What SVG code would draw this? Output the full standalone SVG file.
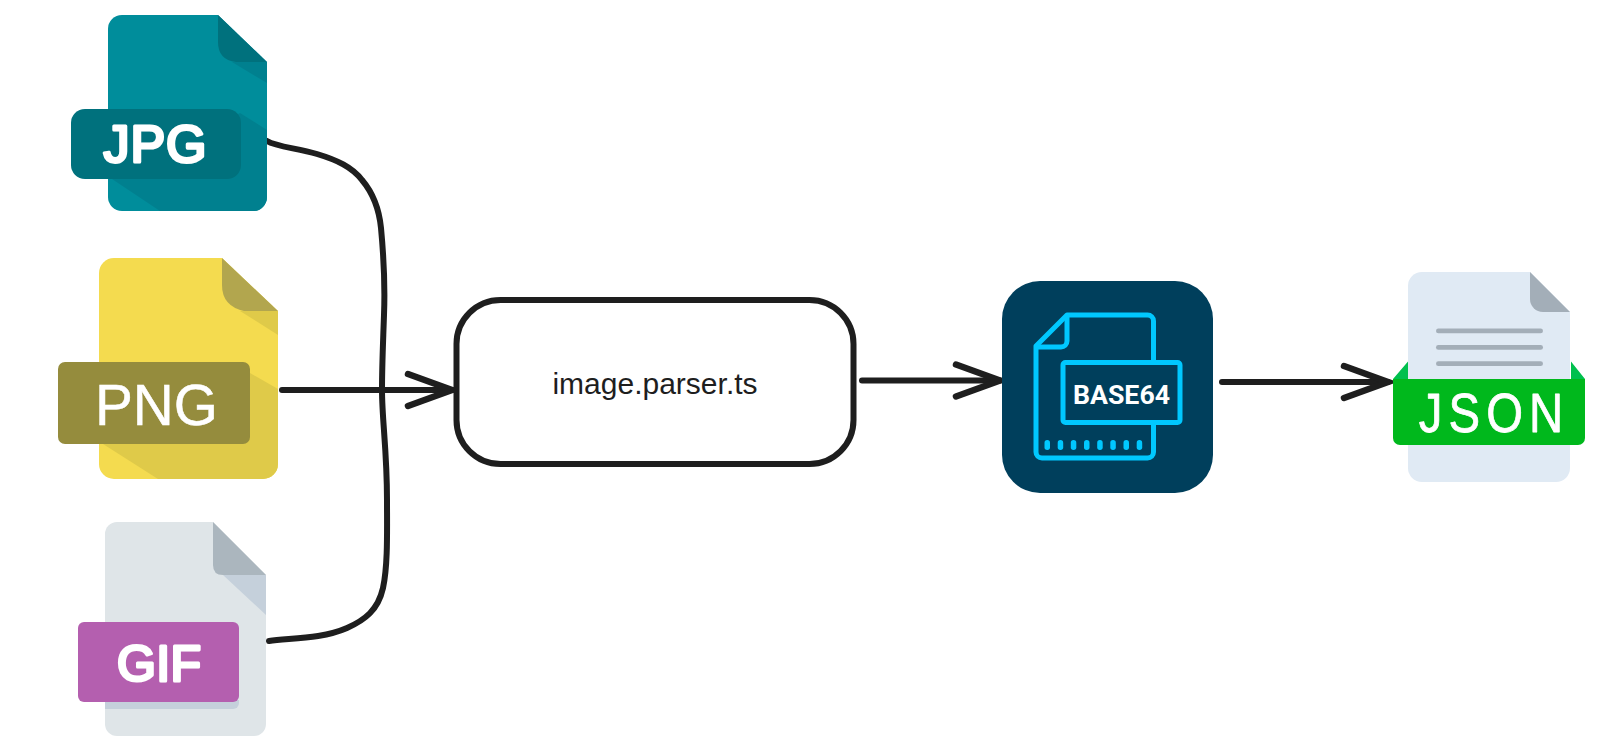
<svg xmlns="http://www.w3.org/2000/svg" width="1600" height="751" viewBox="0 0 1600 751">
<style>
.wire{fill:none;stroke:#1e1e1e;stroke-width:6;stroke-linecap:round;stroke-linejoin:round}
.t{fill:#fff;text-anchor:middle;font-family:"Liberation Sans",Arial,sans-serif}
.rounded{stroke:#fff;stroke-width:3.200;stroke-linejoin:round}
</style>
<defs>
<marker id="head" markerUnits="userSpaceOnUse" markerWidth="60" markerHeight="50" refX="52" refY="20" orient="auto" overflow="visible">
<path d="M8,4 L52,20 L8,36" fill="none" stroke="#1e1e1e" stroke-width="6.500" stroke-linecap="round" stroke-linejoin="miter"/>
</marker>
</defs>
<rect width="1600" height="751" fill="#fff"/>
<g id="connectors">
<path class="wire" d="M267,141 C277,147 297,148 317,154 C337,160 352,167 362,180 C373,193 379,208 381,228 C384,260 385,290 384,315 C383,345 382,365 382,390"/>
<path class="wire" d="M269,641 C290,638 322,639 347,628 C365,620 378,610 383,588 C388,565 387,530 387,500 C387,450 382,420 382,390"/>
<path class="wire" d="M282,390 L452,390" marker-end="url(#head)"/>
<path class="wire" d="M862,380.500 L1000,380.500" marker-end="url(#head)"/>
<path class="wire" d="M1222,382 L1388,382" marker-end="url(#head)"/>
</g>
<g id="jpg">
<path d="M122,15 H218 L267,62 V197 a14,14 0 0 1 -14,14 H122 a14,14 0 0 1 -14,-14 V29 a14,14 0 0 1 14,-14 Z" fill="#008d9b"/>
<path d="M240,113 L267,130 V197 a14,14 0 0 1 -14,14 H160 L112,179 Z" fill="#00808f"/>
<path d="M232,62 H267 V83 Z" fill="#00808f"/>
<path d="M218,15 L267,62 H236 Q218,60 218,42 Z" fill="#00717d"/>
<rect x="71" y="109" width="170" height="70" rx="14" fill="#00717d"/>
<text class="t rounded" x="155" y="161.500" font-size="52" textLength="103" lengthAdjust="spacing">JPG</text>
</g>
<g id="png">
<path d="M114,258 H222 L278,311 V464 a15,15 0 0 1 -15,15 H114 a15,15 0 0 1 -15,-15 V273 a15,15 0 0 1 15,-15 Z" fill="#f4db4f"/>
<path d="M250,373 L278,389 V464 a15,15 0 0 1 -15,15 H158 L103,444 Z" fill="#dfca49"/>
<path d="M240,311 H278 V335 Z" fill="#dfca49"/>
<path d="M222,258 L278,311 H244 Q222,306 222,285 Z" fill="#b2a64e"/>
<rect x="58" y="362" width="192" height="82" rx="7" fill="#958c3d"/>
<text class="t" x="156.500" y="425" font-size="58" textLength="123" lengthAdjust="spacingAndGlyphs" stroke="#fff" stroke-width=".5">PNG</text>
</g>
<g id="gif">
<path d="M117,522 H213 L266,575 V724 a12,12 0 0 1 -12,12 H117 a12,12 0 0 1 -12,-12 V534 a12,12 0 0 1 12,-12 Z" fill="#dfe5e8"/>
<path d="M223,575 H266 V615 Z" fill="#c5d0db"/>
<path d="M213,522 L266,575 H223 Q213,575 213,565 Z" fill="#abb6be"/>
<path d="M105,700 H239 V703 a6,6 0 0 1 -6,6 H105 Z" fill="#c5d0db"/>
<rect x="78" y="622" width="161" height="80" rx="6" fill="#b45faf"/>
<text class="t rounded" x="159" y="681" font-size="50" textLength="84" lengthAdjust="spacing">GIF</text>
</g>
<g id="parser">
<rect x="456.500" y="300" width="397" height="164" rx="44" fill="#fff" stroke="#1e1e1e" stroke-width="6"/>
<text x="655" y="394" font-family="'Liberation Sans',Arial,sans-serif" font-size="30" fill="#1e1e1e" text-anchor="middle">image.parser.ts</text>
</g>
<g id="base64">
<rect x="1002" y="281" width="211" height="212" rx="38" fill="#003f5c"/>
<g fill="none" stroke="#00c8ff" stroke-width="5" stroke-linejoin="round">
<path d="M1153.500,360 V321 a6,6 0 0 0 -6,-6 H1067 L1036,346 V452 a6,6 0 0 0 6,6 H1147.500 a6,6 0 0 0 6,-6 V424"/>
<path d="M1067,315 V341 a6,6 0 0 1 -6,6 H1036"/>
<rect x="1063" y="362.500" width="117" height="60" rx="2.500"/>
</g>
<g fill="#00c8ff">
<rect x="1044.500" y="440" width="5.500" height="10" rx="2.700"/>
<rect x="1057.700" y="440" width="5.500" height="10" rx="2.700"/>
<rect x="1070.800" y="440" width="5.500" height="10" rx="2.700"/>
<rect x="1084" y="440" width="5.500" height="10" rx="2.700"/>
<rect x="1097.200" y="440" width="5.500" height="10" rx="2.700"/>
<rect x="1110.300" y="440" width="5.500" height="10" rx="2.700"/>
<rect x="1123.500" y="440" width="5.500" height="10" rx="2.700"/>
<rect x="1136.700" y="440" width="5.500" height="10" rx="2.700"/>
</g>
<text x="1121.500" y="404" fill="#fff" text-anchor="middle" font-family="Roboto,'Liberation Sans',sans-serif" font-weight="700" font-size="25" textLength="97" lengthAdjust="spacingAndGlyphs">BASE64</text>
</g>
<g id="json">
<path d="M1422,272 H1530 L1570,312 V468 a14,14 0 0 1 -14,14 H1422 a14,14 0 0 1 -14,-14 V286 a14,14 0 0 1 14,-14 Z" fill="#e0eaf4"/>
<path d="M1530,272 L1570,312 H1543 a13,13 0 0 1 -13,-13 Z" fill="#a3aeb8"/>
<g fill="#a3aeb8">
<rect x="1436" y="328.500" width="107" height="4.800" rx="2.400"/>
<rect x="1436" y="345" width="107" height="4.800" rx="2.400"/>
<rect x="1436" y="361.300" width="107" height="4.800" rx="2.400"/>
</g>
<path d="M1393,379 L1408,361.500 V379 Z M1571,361.500 L1585,379 H1571 Z" fill="#00c04e"/>
<path d="M1393,379 H1585 V438 a7,7 0 0 1 -7,7 H1400 a7,7 0 0 1 -7,-7 Z" fill="#00b81c"/>
<text class="t" transform="translate(1491,431.500) scale(.86,1)" font-size="55" textLength="168" lengthAdjust="spacing" stroke="#fff" stroke-width=".8" stroke-linejoin="round">JSON</text>
</g>
</svg>
